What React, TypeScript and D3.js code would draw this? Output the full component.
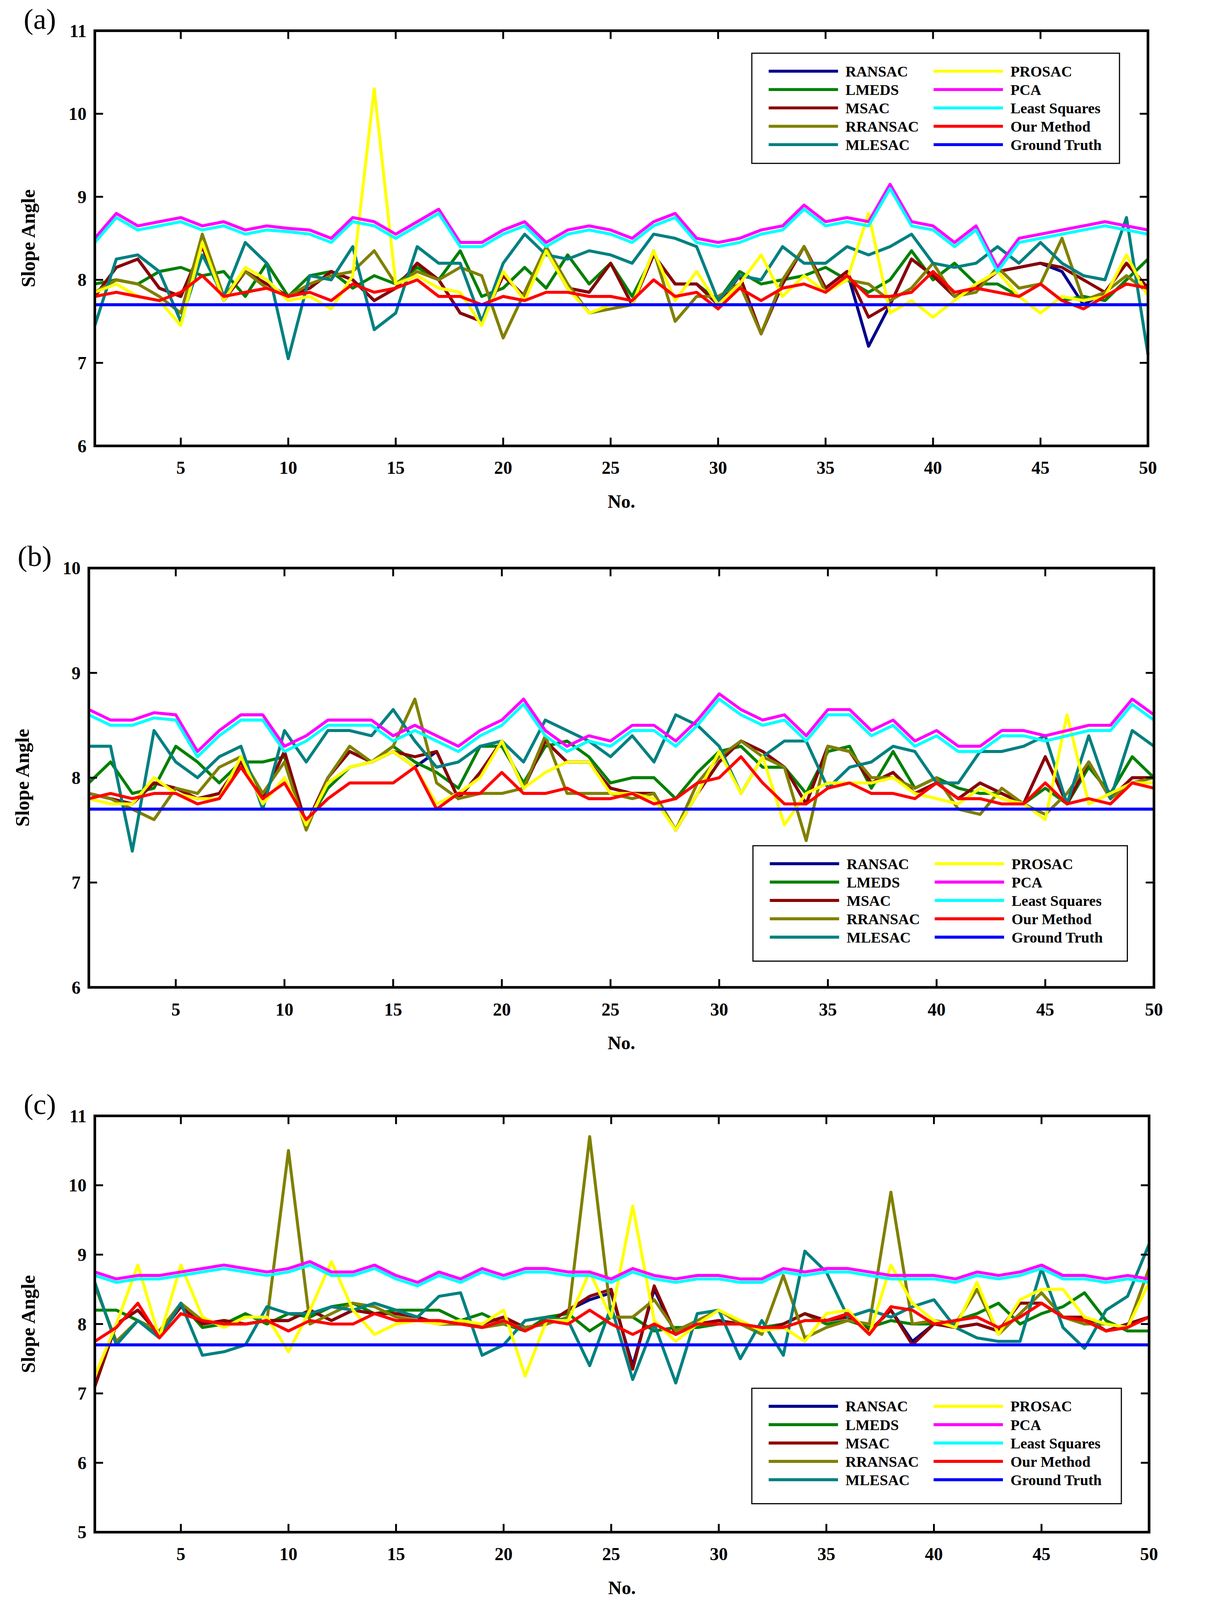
import React from "react"
import * as d3 from "d3"

const xs = d3.range(1, 51)
const seriesNames = ["RANSAC", "LMEDS", "MSAC", "RRANSAC", "MLESAC", "PROSAC", "PCA", "Least Squares", "Our Method", "Ground Truth"]
const seriesColors = ["#00008b", "#008000", "#8b0000", "#808000", "#008080", "#ffff00", "#ff00ff", "#00ffff", "#ff0000", "#0000ff"]
const groundTruth = xs.map(() => 7.7)

// panel (a)
const aRANSAC = [7.8,8.15,8.25,7.9,7.8,8.4,7.75,8.1,7.95,7.8,7.9,8.1,8.0,7.75,7.9,8.2,8.0,7.6,7.5,8.05,7.8,8.35,7.9,7.85,8.2,7.7,8.3,7.95,7.95,7.7,8.05,7.35,7.95,8.4,7.9,8.1,7.2,7.7,8.25,8.05,7.8,7.9,8.1,8.15,8.2,8.1,7.7,7.85,8.2,7.9]
const aLMEDS = [7.95,8.0,7.95,8.1,8.15,8.05,8.1,7.8,8.2,7.8,8.05,8.1,7.9,8.05,7.95,8.15,8.0,8.35,7.8,7.9,8.15,7.9,8.3,7.95,8.2,7.8,8.3,7.95,7.95,7.75,8.1,7.95,8.0,8.05,8.15,8.0,7.85,8.0,8.35,8.0,8.2,7.95,7.95,7.8,7.95,7.75,7.8,7.75,8.0,8.25]
const aMSAC = [7.8,8.15,8.25,7.9,7.8,8.4,7.75,8.1,7.95,7.8,7.9,8.1,8.0,7.75,7.9,8.2,8.0,7.6,7.5,8.05,7.8,8.35,7.9,7.85,8.2,7.7,8.3,7.95,7.95,7.7,8.05,7.35,7.95,8.4,7.9,8.1,7.55,7.7,8.25,8.05,7.8,7.9,8.1,8.15,8.2,8.15,8.0,7.85,8.2,7.9]
const aRRANSAC = [7.85,8.0,7.95,7.8,7.6,8.55,7.8,8.1,7.9,7.8,7.95,8.05,8.1,8.35,7.95,8.1,8.0,8.15,8.05,7.3,7.85,8.4,7.95,7.6,7.65,7.7,8.35,7.5,7.8,7.8,7.95,7.35,8.0,8.4,7.85,8.0,7.95,7.75,7.9,8.2,7.8,7.85,8.15,7.9,7.95,8.5,7.75,7.85,8.05,7.85]
const aMLESAC = [7.45,8.25,8.3,8.1,7.5,8.3,7.8,8.45,8.2,7.05,8.05,8.0,8.4,7.4,7.6,8.4,8.2,8.2,7.5,8.2,8.55,8.3,8.25,8.35,8.3,8.2,8.55,8.5,8.4,7.75,8.05,8.0,8.4,8.2,8.2,8.4,8.3,8.4,8.55,8.2,8.15,8.2,8.4,8.2,8.45,8.2,8.05,8.0,8.75,7.1]
const aPROSAC = [7.85,7.95,7.8,7.75,7.45,8.45,7.75,8.15,8.0,7.75,7.8,7.65,8.05,10.3,7.95,8.05,7.9,7.85,7.45,8.1,7.75,8.35,7.9,7.6,7.7,7.7,8.35,7.75,8.1,7.7,7.95,8.3,7.8,8.05,7.85,8.0,8.8,7.6,7.75,7.55,7.75,7.95,8.1,7.8,7.6,7.8,7.75,7.8,8.3,7.8]
const aPCA = [8.5,8.8,8.65,8.7,8.75,8.65,8.7,8.6,8.65,8.62,8.6,8.5,8.75,8.7,8.55,8.7,8.85,8.45,8.45,8.6,8.7,8.45,8.6,8.65,8.6,8.5,8.7,8.8,8.5,8.45,8.5,8.6,8.65,8.9,8.7,8.75,8.7,9.15,8.7,8.65,8.45,8.65,8.15,8.5,8.55,8.6,8.65,8.7,8.65,8.6]
const aLS = [8.45,8.75,8.6,8.65,8.7,8.6,8.65,8.55,8.6,8.58,8.55,8.45,8.7,8.65,8.5,8.65,8.8,8.4,8.4,8.55,8.65,8.4,8.55,8.6,8.55,8.45,8.65,8.75,8.45,8.4,8.45,8.55,8.6,8.85,8.65,8.7,8.65,9.1,8.65,8.6,8.4,8.6,8.1,8.45,8.5,8.55,8.6,8.65,8.6,8.55]
const aOurs = [7.8,7.85,7.8,7.75,7.85,8.05,7.8,7.85,7.9,7.8,7.85,7.75,7.95,7.85,7.9,8.0,7.8,7.8,7.7,7.8,7.75,7.85,7.85,7.8,7.8,7.75,8.0,7.8,7.85,7.65,7.9,7.75,7.9,7.95,7.85,8.05,7.8,7.8,7.85,8.1,7.85,7.9,7.85,7.8,7.95,7.75,7.65,7.8,7.95,7.9]

// panel (b)
const bRANSAC = [7.85,7.8,7.75,7.95,7.9,7.8,7.85,8.15,7.8,8.25,7.55,8.0,8.25,8.15,8.25,8.1,8.25,7.8,8.05,8.35,7.9,8.35,8.15,8.15,7.9,7.85,7.85,7.5,7.85,8.15,8.35,8.25,8.1,7.75,8.3,8.25,7.95,8.05,7.85,7.95,7.8,7.95,7.85,7.75,8.2,7.75,8.15,7.8,8.0,8.0]
const bLMEDS = [7.95,8.15,7.85,7.9,8.3,8.15,7.95,8.15,8.15,8.2,7.55,7.9,8.1,8.15,8.3,8.15,8.05,7.9,8.3,8.3,7.95,8.3,8.35,8.2,7.95,8.0,8.0,7.8,8.05,8.25,8.3,8.1,8.1,7.85,8.25,8.3,7.9,8.25,7.9,8.0,7.9,7.85,7.85,7.75,7.9,7.75,8.1,7.85,8.2,8.0]
const bMSAC = [7.85,7.8,7.75,7.95,7.9,7.8,7.85,8.15,7.8,8.25,7.55,8.0,8.25,8.15,8.25,8.2,8.25,7.8,8.05,8.35,7.9,8.35,8.15,8.15,7.9,7.85,7.85,7.5,7.85,8.15,8.35,8.25,8.1,7.75,8.3,8.25,7.95,8.05,7.85,7.95,7.8,7.95,7.85,7.75,8.2,7.75,8.15,7.8,8.0,8.0]
const bRRANSAC = [7.85,7.8,7.7,7.6,7.9,7.85,8.1,8.2,7.85,8.15,7.5,8.0,8.3,8.15,8.3,8.75,7.95,7.8,7.85,7.85,7.9,8.4,7.85,7.85,7.85,7.8,7.85,7.5,7.95,8.2,8.35,8.2,8.1,7.4,8.3,8.25,8.0,8.0,7.9,8.0,7.7,7.65,7.9,7.75,7.65,7.85,8.15,7.8,7.95,8.0]
const bMLESAC = [8.3,8.3,7.3,8.45,8.15,8.0,8.2,8.3,7.7,8.45,8.15,8.45,8.45,8.4,8.65,8.35,8.1,8.15,8.3,8.35,8.15,8.55,8.45,8.35,8.2,8.4,8.15,8.6,8.5,8.3,7.85,8.2,8.35,8.35,7.9,8.1,8.15,8.3,8.25,7.95,7.95,8.25,8.25,8.3,8.4,7.75,8.4,7.8,8.45,8.3]
const bPROSAC = [7.8,7.75,7.75,8.0,7.85,7.8,7.8,8.2,7.75,8.0,7.55,7.95,8.1,8.15,8.25,8.1,7.75,7.85,8.0,8.35,7.9,8.05,8.15,8.15,7.85,7.85,7.8,7.5,7.85,8.25,7.85,8.2,7.55,7.85,7.95,7.95,7.95,8.0,7.85,7.8,7.75,7.9,7.8,7.75,7.6,8.6,7.75,7.85,7.95,7.95]
const bPCA = [8.65,8.55,8.55,8.62,8.6,8.25,8.45,8.6,8.6,8.3,8.4,8.55,8.55,8.55,8.4,8.5,8.4,8.3,8.45,8.55,8.75,8.45,8.3,8.4,8.35,8.5,8.5,8.35,8.55,8.8,8.65,8.55,8.6,8.4,8.65,8.65,8.45,8.55,8.35,8.45,8.3,8.3,8.45,8.45,8.4,8.45,8.5,8.5,8.75,8.6]
const bLS = [8.6,8.5,8.5,8.57,8.55,8.2,8.4,8.55,8.55,8.25,8.35,8.5,8.5,8.5,8.35,8.45,8.35,8.25,8.4,8.5,8.7,8.4,8.25,8.35,8.3,8.45,8.45,8.3,8.5,8.75,8.6,8.5,8.55,8.35,8.6,8.6,8.4,8.5,8.3,8.4,8.25,8.25,8.4,8.4,8.35,8.4,8.45,8.45,8.7,8.55]
const bOurs = [7.8,7.85,7.8,7.85,7.85,7.75,7.8,8.1,7.8,7.95,7.6,7.8,7.95,7.95,7.95,8.1,7.7,7.85,7.85,8.05,7.85,7.85,7.9,7.8,7.8,7.85,7.75,7.8,7.95,8.0,8.2,7.95,7.75,7.75,7.9,7.95,7.85,7.85,7.8,7.95,7.8,7.8,7.75,7.75,7.95,7.75,7.8,7.75,7.95,7.9]

// panel (c)
const cRANSAC = [7.1,8.0,8.2,7.85,8.25,8.0,8.05,8.0,8.05,8.05,8.2,8.05,8.2,8.15,8.15,8.1,8.0,8.0,8.0,8.1,7.95,8.0,8.2,8.35,8.45,7.4,8.5,7.85,8.0,8.05,8.0,7.9,8.0,8.15,8.05,8.1,7.9,8.2,7.75,8.0,7.95,8.0,7.9,8.3,8.3,8.1,8.1,7.9,8.0,8.1]
const cLMEDS = [8.2,8.2,8.05,7.85,8.3,7.95,8.0,8.15,8.0,8.15,8.1,8.25,8.3,8.15,8.2,8.2,8.2,8.05,8.15,8.0,7.9,8.1,8.15,7.9,8.1,8.1,7.9,7.95,7.95,8.0,8.0,7.95,8.0,8.15,8.0,8.05,7.95,8.05,8.0,8.0,8.05,8.15,8.3,8.0,8.15,8.25,8.45,8.05,7.9,7.9]
const cMSAC = [7.1,8.0,8.2,7.85,8.25,8.0,8.05,8.0,8.05,8.05,8.2,8.05,8.2,8.15,8.15,8.1,8.0,8.0,8.0,8.1,7.95,8.0,8.2,8.4,8.5,7.35,8.55,7.85,8.0,8.05,8.0,7.9,8.0,8.15,8.05,8.1,7.9,8.2,7.7,8.0,7.95,8.0,7.9,8.3,8.3,8.1,8.1,7.9,8.0,8.1]
const cRRANSAC = [8.55,7.75,8.05,7.9,8.3,8.05,8.0,8.0,8.05,10.5,8.0,8.15,8.3,8.25,8.1,8.05,8.0,8.0,7.95,8.0,7.95,8.0,8.1,10.7,8.1,8.1,8.35,7.9,8.05,8.2,8.0,7.85,8.7,7.8,7.95,8.05,8.0,9.9,8.0,8.05,8.0,8.5,7.85,8.15,8.45,8.1,8.0,8.0,7.95,8.8]
const cMLESAC = [8.6,7.7,8.05,7.8,8.3,7.55,7.6,7.7,8.25,8.15,8.15,8.25,8.2,8.3,8.2,8.1,8.4,8.45,7.55,7.7,8.05,8.1,8.05,7.4,8.25,7.2,8.0,7.15,8.15,8.2,7.5,8.05,7.55,9.05,8.75,8.1,8.2,8.1,8.25,8.35,7.95,7.8,7.75,7.75,8.8,7.95,7.65,8.2,8.4,9.15]
const cPROSAC = [7.25,8.0,8.85,7.8,8.85,8.1,7.95,8.1,8.1,7.6,8.2,8.9,8.2,7.85,8.0,8.05,8.0,8.05,8.0,8.2,7.25,8.05,8.05,8.75,8.1,9.7,8.05,7.75,8.0,8.2,8.05,7.9,7.95,7.75,8.15,8.2,7.85,8.85,8.3,8.05,7.95,8.6,7.85,8.35,8.5,8.5,8.1,8.0,7.95,8.6]
const cPCA = [8.75,8.65,8.7,8.7,8.75,8.8,8.85,8.8,8.75,8.8,8.9,8.75,8.75,8.85,8.7,8.6,8.75,8.65,8.8,8.7,8.8,8.8,8.75,8.75,8.65,8.8,8.7,8.65,8.7,8.7,8.65,8.65,8.8,8.75,8.8,8.8,8.75,8.7,8.7,8.7,8.65,8.75,8.7,8.75,8.85,8.7,8.7,8.65,8.7,8.65]
const cLS = [8.7,8.6,8.65,8.65,8.7,8.75,8.8,8.75,8.7,8.75,8.85,8.7,8.7,8.8,8.65,8.55,8.7,8.6,8.75,8.65,8.75,8.75,8.7,8.7,8.6,8.75,8.65,8.6,8.65,8.65,8.6,8.6,8.75,8.7,8.75,8.75,8.7,8.65,8.65,8.65,8.6,8.7,8.65,8.7,8.8,8.65,8.65,8.6,8.65,8.6]
const cOurs = [7.75,7.95,8.3,7.8,8.15,8.05,8.0,8.0,8.05,7.9,8.05,8.0,8.0,8.15,8.05,8.05,8.05,8.0,7.95,8.05,7.9,8.05,8.0,8.2,8.0,7.85,8.0,7.85,8.0,8.0,8.0,7.95,7.95,8.05,8.05,8.15,7.85,8.25,8.2,8.0,8.05,8.1,7.95,8.1,8.3,8.1,8.05,7.9,7.95,8.1]

// draw order: index into seriesNames (plot order, later on top)
const drawOrder = [0, 1, 2, 3, 4, 5, 6, 7, 8, 9]

interface PanelProps {
  label: string
  series: number[][]
  yDomain: [number, number]
  box: { x0: number; x1: number; y0: number; y1: number }
  legend: { x: number; y: number; w: number; h: number }
}

const FONT = "'Liberation Serif', 'DejaVu Serif', serif"

const Panel: React.FC<PanelProps> = ({ label, series, yDomain, box, legend }) => {
  const x = d3.scaleLinear().domain([1, 50]).range([box.x0, box.x1])
  const y = d3.scaleLinear().domain(yDomain).range([box.y1, box.y0])
  const line = d3.line<number>().x((_, i) => x(xs[i])).y((d) => y(d))
  const yTicks = d3.range(yDomain[0], yDomain[1] + 1)
  const xTicks = d3.range(5, 51, 5)
  return (
    <g>
      <text x={box.x0 - 190} y={box.y0 - 5} fontSize={78} fontFamily={FONT}>{label}</text>
      <rect x={box.x0} y={box.y0} width={box.x1 - box.x0} height={box.y1 - box.y0} fill="#fff" />
      <g clipPath={`url(#clip-${label})`}>
        <clipPath id={`clip-${label}`}>
          <rect x={box.x0} y={box.y0} width={box.x1 - box.x0} height={box.y1 - box.y0} />
        </clipPath>
        {drawOrder.map((k) => (
          <path key={k} d={line(series[k]) ?? ""} fill="none" stroke={seriesColors[k]} strokeWidth={8} strokeLinejoin="round" />
        ))}
      </g>
      <rect x={box.x0} y={box.y0} width={box.x1 - box.x0} height={box.y1 - box.y0} fill="none" stroke="#000" strokeWidth={7} />
      {yTicks.map((t) => (
        <g key={t}>
          <line x1={box.x0} x2={box.x0 + 22} y1={y(t)} y2={y(t)} stroke="#000" strokeWidth={5} />
          <line x1={box.x1} x2={box.x1 - 22} y1={y(t)} y2={y(t)} stroke="#000" strokeWidth={5} />
          <text x={box.x0 - 22} y={y(t)} dy="0.35em" textAnchor="end" fontSize={48} fontWeight="bold" fontFamily={FONT}>{t}</text>
        </g>
      ))}
      {xTicks.map((t) => (
        <g key={t}>
          <line x1={x(t)} x2={x(t)} y1={box.y1} y2={box.y1 - 22} stroke="#000" strokeWidth={5} />
          <line x1={x(t)} x2={x(t)} y1={box.y0} y2={box.y0 + 22} stroke="#000" strokeWidth={5} />
          <text x={x(t)} y={box.y1 + 75} textAnchor="middle" fontSize={48} fontWeight="bold" fontFamily={FONT}>{t}</text>
        </g>
      ))}
      <text x={(box.x0 + box.x1) / 2} y={box.y1 + 165} textAnchor="middle" fontSize={50} fontWeight="bold" fontFamily={FONT}>No.</text>
      <text transform={`translate(${box.x0 - 160},${(box.y0 + box.y1) / 2}) rotate(-90)`} textAnchor="middle" fontSize={52} fontWeight="bold" fontFamily={FONT}>Slope Angle</text>
      <rect x={legend.x} y={legend.y} width={legend.w} height={legend.h} fill="#fff" stroke="#000" strokeWidth={3} />
      {seriesNames.map((name, k) => {
        const col = Math.floor(k / 5)
        const row = k % 5
        const lx = legend.x + 45 + col * 440
        const ly = legend.y + 48 + row * 49
        return (
          <g key={name}>
            <line x1={lx} x2={lx + 185} y1={ly} y2={ly} stroke={seriesColors[k]} strokeWidth={8} />
            <text x={lx + 205} y={ly} dy="0.35em" fontSize={40} fontWeight="bold" fontFamily={FONT}>{name}</text>
          </g>
        )
      })}
    </g>
  )
}

export default function App() {
  const aSeries = [aRANSAC, aLMEDS, aMSAC, aRRANSAC, aMLESAC, aPROSAC, aPCA, aLS, aOurs, groundTruth]
  const bSeries = [bRANSAC, bLMEDS, bMSAC, bRRANSAC, bMLESAC, bPROSAC, bPCA, bLS, bOurs, groundTruth]
  const cSeries = [cRANSAC, cLMEDS, cMSAC, cRRANSAC, cMLESAC, cPROSAC, cPCA, cLS, cOurs, groundTruth]
  return (
    <svg
      viewBox="0 0 3120 4270"
      preserveAspectRatio="xMinYMin meet"
      style={{ position: "fixed", left: 0, top: 0, width: "100vw", height: "100vh", background: "#fff" }}
    >
      <rect width={3120} height={4270} fill="#fff" />
      <Panel label="(a)" series={aSeries} yDomain={[6, 11]} box={{ x0: 253, x1: 3063, y0: 82, y1: 1190 }} legend={{ x: 2006, y: 142, w: 981, h: 294 }} />
      <Panel label="(b)" series={bSeries} yDomain={[6, 10]} box={{ x0: 237, x1: 3079, y0: 1516, y1: 2635 }} legend={{ x: 2009, y: 2257, w: 999, h: 308 }} />
      <Panel label="(c)" series={cSeries} yDomain={[5, 11]} box={{ x0: 253, x1: 3066, y0: 2978, y1: 4089 }} legend={{ x: 2006, y: 3705, w: 986, h: 308 }} />
    </svg>
  )
}
